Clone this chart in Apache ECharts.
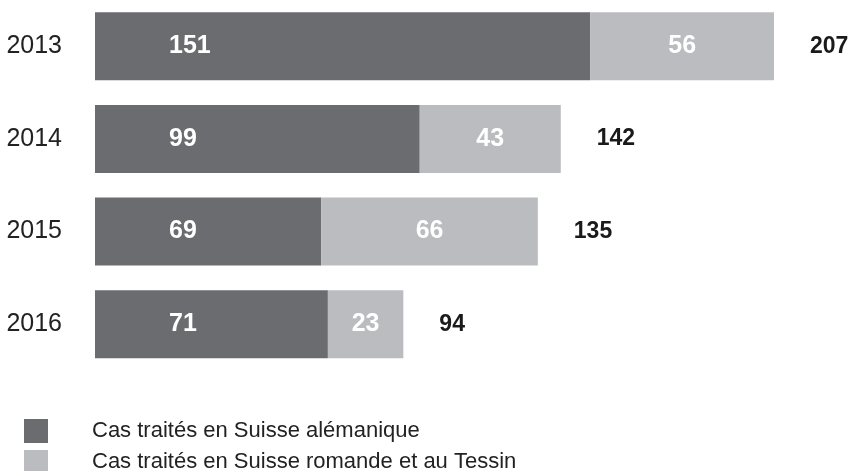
<!DOCTYPE html>
<html>
<head>
<meta charset="utf-8">
<script src="https://cdn.jsdelivr.net/npm/echarts@6/dist/echarts.min.js"></script>
<style>
  html, body { margin: 0; padding: 0; background: #fff; }
  #chart { width: 853px; height: 471px; }
</style>
</head>
<body>
<div id="chart"></div>
<script>
const years = ['2013', '2014', '2015', '2016'];
const alemanique = [151, 99, 69, 71];
const romande = [56, 43, 66, 23];
const seriesNames = ['Cas traités en Suisse alémanique', 'Cas traités en Suisse romande et au Tessin'];

const totals = years.map((_, i) => alemanique[i] + romande[i]);

const chart = echarts.init(document.getElementById('chart'));
const fontFamily = '"Liberation Sans", Arial, sans-serif';

// one legend per line so they stack like the original
const legendBase = {
  orient: 'vertical',
  left: 24,
  icon: 'rect',
  itemWidth: 24,
  itemHeight: 24,
  padding: 0,
  selectedMode: false,
  textStyle: { fontSize: 22, color: '#222', padding: [0, 0, 0, 39] },
};

const option = {
  animation: false,
  textStyle: { fontFamily },
  grid: { left: 95, top: -1.5, width: 679, height: 372 },
  legend: [
    { ...legendBase, data: [seriesNames[0]], top: 419 },
    { ...legendBase, data: [seriesNames[1]], top: 450 },
  ],
  xAxis: {
    type: 'value',
    min: 0,
    max: 207,
    show: false,
  },
  yAxis: {
    type: 'category',
    data: years,
    inverse: true,
    axisLine: { show: false },
    axisTick: { show: false },
    axisLabel: { fontSize: 25, color: '#222', margin: 33 },
  },
  series: [
    {
      name: seriesNames[0],
      type: 'bar',
      stack: 'total',
      barWidth: 68,
      data: alemanique,
      itemStyle: { color: '#6b6c70' },
      label: {
        show: true,
        position: 'insideLeft',
        distance: 74,
        color: '#fff',
        fontWeight: 'bold',
        fontSize: 25,
      },
    },
    {
      name: seriesNames[1],
      type: 'bar',
      stack: 'total',
      barWidth: 68,
      data: romande,
      itemStyle: { color: '#bbbcc0' },
      label: {
        show: true,
        position: 'inside',
        color: '#fff',
        fontWeight: 'bold',
        fontSize: 25,
      },
    },
    {
      name: 'total',
      type: 'bar',
      stack: 'total',
      barWidth: 68,
      data: years.map(() => 0),
      itemStyle: { color: 'transparent' },
      label: {
        show: true,
        position: 'right',
        distance: 36,
        color: '#1a1a1a',
        fontWeight: 'bold',
        fontSize: 23,
        formatter: (p) => String(totals[p.dataIndex]),
      },
    },
  ],
};

chart.setOption(option);
</script>
</body>
</html>
